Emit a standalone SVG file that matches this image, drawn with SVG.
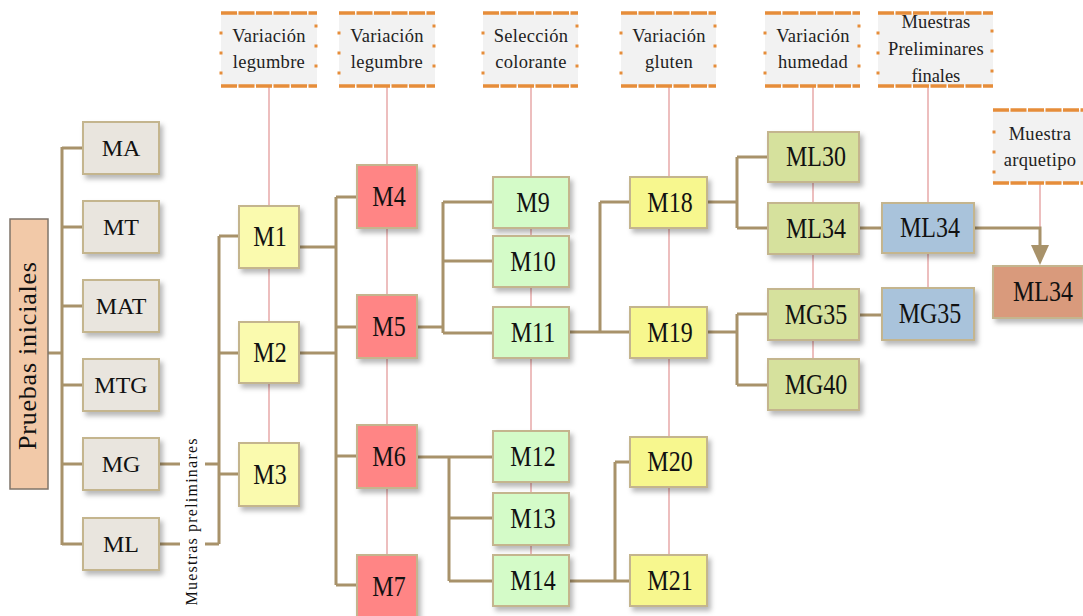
<svg xmlns="http://www.w3.org/2000/svg" width="1083" height="616" viewBox="0 0 1083 616">
<defs>
<filter id="sh" x="-20%" y="-20%" width="150%" height="150%">
<feDropShadow dx="3" dy="4" stdDeviation="2.5" flood-color="#000" flood-opacity="0.28"/>
</filter>
</defs>
<style>
text{font-family:"Liberation Serif","Times New Roman",serif;fill:#111}
.n{font-size:24px;text-anchor:middle}
.h{font-size:18.5px;text-anchor:middle;fill:#222;letter-spacing:0.3px}
.box{stroke:#C4B58E;stroke-width:2;filter:url(#sh)}
.g0{fill:#E9E5DE}
.y1{fill:#FAFAAE}
.y2{fill:#F7F78E}
.r{fill:#FF8585}
.lg{fill:#D4FBC8}
.og{fill:#D6E19D}
.bl{fill:#A9C3DB}
.fin{fill:#D99A7B}
.c{fill:none;stroke:#A8926A;stroke-width:3}
.p{fill:none;stroke:#E7A9A9;stroke-width:1.5}
.hb{fill:#F2F2F2}
.ht{fill:none;stroke:#E68D3A;stroke-width:3.5;stroke-dasharray:16 1.5}
.hs{fill:none;stroke:#E68D3A;stroke-width:3;stroke-dasharray:3 17}
</style>

<g id="guides">
<path class="p" d="M269 86V443M387 86V560M531 86V556M669 86V556M813 86V360M928 86V289M1040 183V228"/>
</g>

<g id="connectors">
<path class="c" d="M48 353H62M62 147V545M62 148H83M62 227H83M62 306H83M62 385H83M62 464H83M62 544H83"/>
<path class="c" d="M159 464H180M205 464H219M159 544H180M205 544H219M219 236V544M219 236H239M219 353H239M219 474H239"/>
<path class="c" d="M299 247H336M299 353H336M336 197V585M336 197H357M336 327H357M336 456H357M336 585H357"/>
<path class="c" d="M417 327H443M443 202V333M443 202H493M443 261H493M443 333H493"/>
<path class="c" d="M417 457H493M449 457V581M449 518H493M449 581H493"/>
<path class="c" d="M569 332H630M600 202V332M600 202H630"/>
<path class="c" d="M569 581H630M615 462V581M615 462H630"/>
<path class="c" d="M707 202H737M737 157V228M737 157H768M737 228H768"/>
<path class="c" d="M707 332H737M737 314V385M737 314H768M737 385H768"/>
<path class="c" d="M859 228H882M859 315H882"/>
<path class="c" d="M974 228H1040V247"/>
<polygon points="1031,245 1049,245 1040,265" fill="#A8926A"/>
</g>

<g id="pruebas">
<rect x="10" y="219" width="38" height="270" fill="#F2C9A8" stroke="#7F746A" stroke-width="1.5"/>
<text transform="translate(36,356) rotate(-90)" font-size="26" text-anchor="middle" textLength="188">Pruebas iniciales</text>
</g>
<g id="MA"><rect class="box g0" x="83" y="122" width="76" height="52"/><text class="n" x="121" y="156">MA</text></g>
<g id="MT"><rect class="box g0" x="83" y="201" width="76" height="52"/><text class="n" x="121" y="235">MT</text></g>
<g id="MAT"><rect class="box g0" x="83" y="280" width="76" height="52"/><text class="n" x="121" y="314">MAT</text></g>
<g id="MTG"><rect class="box g0" x="83" y="359" width="76" height="52"/><text class="n" x="121" y="393">MTG</text></g>
<g id="MG"><rect class="box g0" x="83" y="438" width="76" height="52"/><text class="n" x="121" y="472">MG</text></g>
<g id="ML"><rect class="box g0" x="83" y="518" width="76" height="52"/><text class="n" x="121" y="552">ML</text></g>
<g id="muestras-prelim"><text transform="translate(197,522) rotate(-90)" font-size="16" text-anchor="middle" textLength="167">Muestras preliminares</text></g>

<g id="M1"><rect class="box y1" x="239" y="206" width="60" height="62"/><text class="n" transform="translate(270,246) scale(1,1.2)">M1</text></g>
<g id="M2"><rect class="box y1" x="239" y="322" width="60" height="61"/><text class="n" transform="translate(270,362) scale(1,1.2)">M2</text></g>
<g id="M3"><rect class="box y1" x="239" y="443" width="60" height="63"/><text class="n" transform="translate(270,484) scale(1,1.2)">M3</text></g>

<g id="M4"><rect class="box r" x="357" y="165" width="60" height="63"/><text class="n" transform="translate(389,206) scale(1,1.2)">M4</text></g>
<g id="M5"><rect class="box r" x="357" y="295" width="60" height="63"/><text class="n" transform="translate(389,336) scale(1,1.2)">M5</text></g>
<g id="M6"><rect class="box r" x="357" y="425" width="60" height="63"/><text class="n" transform="translate(389,466) scale(1,1.2)">M6</text></g>
<g id="M7"><rect class="box r" x="357" y="555" width="60" height="63"/><text class="n" transform="translate(389,596) scale(1,1.2)">M7</text></g>

<g id="M9"><rect class="box lg" x="493" y="177" width="76" height="51"/><text class="n" transform="translate(533,212) scale(1,1.2)">M9</text></g>
<g id="M10"><rect class="box lg" x="493" y="236" width="76" height="51"/><text class="n" transform="translate(533,271) scale(1,1.2)">M10</text></g>
<g id="M11"><rect class="box lg" x="493" y="307" width="76" height="51"/><text class="n" transform="translate(533,342) scale(1,1.2)">M11</text></g>
<g id="M12"><rect class="box lg" x="493" y="431" width="76" height="51"/><text class="n" transform="translate(533,466) scale(1,1.2)">M12</text></g>
<g id="M13"><rect class="box lg" x="493" y="493" width="76" height="52"/><text class="n" transform="translate(533,528) scale(1,1.2)">M13</text></g>
<g id="M14"><rect class="box lg" x="493" y="555" width="76" height="51"/><text class="n" transform="translate(533,590) scale(1,1.2)">M14</text></g>

<g id="M18"><rect class="box y2" x="630" y="177" width="77" height="51"/><text class="n" transform="translate(670,212) scale(1,1.2)">M18</text></g>
<g id="M19"><rect class="box y2" x="630" y="307" width="77" height="51"/><text class="n" transform="translate(670,342) scale(1,1.2)">M19</text></g>
<g id="M20"><rect class="box y2" x="630" y="437" width="77" height="50"/><text class="n" transform="translate(670,471) scale(1,1.2)">M20</text></g>
<g id="M21"><rect class="box y2" x="630" y="555" width="77" height="51"/><text class="n" transform="translate(670,590) scale(1,1.2)">M21</text></g>

<g id="ML30"><rect class="box og" x="768" y="132" width="91" height="50"/><text class="n" transform="translate(816,166) scale(1,1.22)">ML30</text></g>
<g id="ML34a"><rect class="box og" x="768" y="203" width="91" height="51"/><text class="n" transform="translate(816,238) scale(1,1.22)">ML34</text></g>
<g id="MG35a"><rect class="box og" x="768" y="289" width="91" height="51"/><text class="n" transform="translate(816,324) scale(1,1.22)">MG35</text></g>
<g id="MG40"><rect class="box og" x="768" y="359" width="91" height="51"/><text class="n" transform="translate(816,394) scale(1,1.22)">MG40</text></g>

<g id="ML34b"><rect class="box bl" x="882" y="203" width="92" height="50"/><text class="n" transform="translate(930,237) scale(1,1.22)">ML34</text></g>
<g id="MG35b"><rect class="box bl" x="882" y="288" width="92" height="52"/><text class="n" transform="translate(930,323) scale(1,1.22)">MG35</text></g>

<g id="ML34final"><rect class="box fin" x="993" y="266" width="90" height="52"/><text class="n" transform="translate(1043,301) scale(1,1.22)">ML34</text></g>

<g id="h1"><rect class="hb" x="221" y="13" width="96" height="73"/><path class="ht" d="M221 13H317M221 86H317"/><path class="hs" d="M221 31.5V86M316 24.5V80"/><text class="h" x="269" y="42">Variación</text><text class="h" x="269" y="68">legumbre</text></g>
<g id="h2"><rect class="hb" x="339" y="13" width="96" height="73"/><path class="ht" d="M339 13H435M339 86H435"/><path class="hs" d="M339 31.5V86M434 24.5V80"/><text class="h" x="387" y="42">Variación</text><text class="h" x="387" y="68">legumbre</text></g>
<g id="h3"><rect class="hb" x="483" y="13" width="95" height="73"/><path class="ht" d="M483 13H578M483 86H578"/><path class="hs" d="M483 31.5V86M577 24.5V80"/><text class="h" x="531" y="42">Selección</text><text class="h" x="531" y="68">colorante</text></g>
<g id="h4"><rect class="hb" x="621" y="13" width="95" height="73"/><path class="ht" d="M621 13H716M621 86H716"/><path class="hs" d="M621 31.5V86M715 24.5V80"/><text class="h" x="669" y="42">Variación</text><text class="h" x="669" y="68">gluten</text></g>
<g id="h5"><rect class="hb" x="765" y="13" width="95" height="73"/><path class="ht" d="M765 13H860M765 86H860"/><path class="hs" d="M765 31.5V86M859 24.5V80"/><text class="h" x="813" y="42">Variación</text><text class="h" x="813" y="68">humedad</text></g>
<g id="h6"><rect class="hb" x="878" y="13" width="115" height="73"/><path class="ht" d="M878 13H993M878 86H993"/><path class="hs" d="M878 31.5V86M992 29.5V80"/><text class="h" x="936" y="28" textLength="69">Muestras</text><text class="h" x="936" y="55" textLength="96">Preliminares</text><text class="h" x="936" y="82" textLength="49">finales</text></g>
<g id="h7"><rect class="hb" x="993" y="110" width="90" height="73"/><path class="ht" d="M993 110H1083M993 183H1083"/><path class="hs" d="M994 130.5V183"/><text class="h" x="1040" y="140">Muestra</text><text class="h" x="1040" y="166">arquetipo</text></g>
</svg>
